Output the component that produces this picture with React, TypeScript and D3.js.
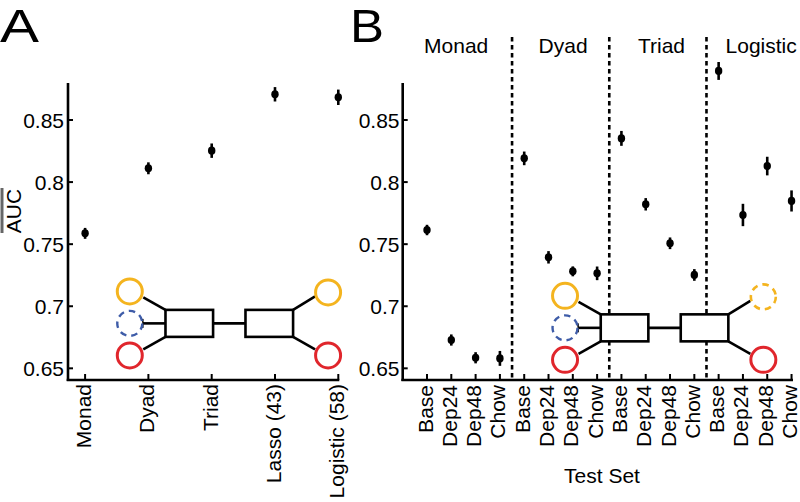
import React from "react";
import * as d3 from "d3";

// ---------- data ----------
const panelACategories = ["Monad", "Dyad", "Triad", "Lasso (43)", "Logistic (58)"];
const panelAMeans = [0.7587, 0.8111, 0.8253, 0.8707, 0.8683];
const panelAErrors = [0.0044, 0.0048, 0.0058, 0.0058, 0.0062];

const modelGroups = ["Monad", "Dyad", "Triad", "Logistic"];
const testSets = ["Base", "Dep24", "Dep48", "Chow"];
const panelBMeans = [
  0.7614, 0.6728, 0.6585, 0.658,
  0.8191, 0.7394, 0.7281, 0.7265,
  0.8352, 0.7821, 0.7507, 0.7252,
  0.8895, 0.7735, 0.8129, 0.7848,
];
const panelBErrors = [
  0.0042, 0.0045, 0.0045, 0.006,
  0.0055, 0.005, 0.004, 0.0055,
  0.006, 0.005, 0.0047, 0.0047,
  0.0072, 0.009, 0.0075, 0.0085,
];
const groupTitlePos = [2.2, 6.6, 10.65, 14.75];
const dividerPos = [4.5, 8.5, 12.5];

const yTicks = [0.65, 0.7, 0.75, 0.8, 0.85];
const yTickLabels = ["0.65", "0.7", "0.75", "0.8", "0.85"];

// ---------- styling ----------
const FONT = "'Liberation Sans', Arial, Helvetica, sans-serif";
const FS = 21;
const YELLOW = "#F4B41F";
const RED = "#E0262C";
const BLUE = "#3E5CA8";

const y = d3.scaleLinear().domain([0.6406, 0.8798]).range([380, 83]);
const xA = d3.scaleLinear().domain([0.73, 5]).range([68, 338.3]);
const xB = d3.scaleLinear().domain([0, 16.06]).range([402.7, 793]);

function Diagram({ x0, y0, rightDashed }: { x0: number; y0: number; rightDashed: boolean }) {
  const r = 12.5;
  const bx1 = 35.7, bw = 47.6, gap = 32.4;
  const bx2 = bx1 + bw + gap;
  const rx = bx2 + bw + 35;
  const bh = 13.5;
  return (
    <g transform={`translate(${x0},${y0})`} strokeWidth={2.6} fill="none">
      <line x1={13.5} y1={-26} x2={bx1} y2={-bh} stroke="#000" />
      <line x1={12.5} y1={0} x2={bx1} y2={0} stroke="#000" />
      <line x1={12.5} y1={-4.5} x2={12.5} y2={4.5} stroke="#000" />
      <line x1={13.5} y1={26} x2={bx1} y2={bh} stroke="#000" />
      <line x1={bx1 + bw} y1={0} x2={bx2} y2={0} stroke="#000" />
      <line x1={bx2 + bw} y1={-bh} x2={rx - 13} y2={-27} stroke="#000" />
      <line x1={bx2 + bw} y1={bh} x2={rx - 13} y2={26} stroke="#000" />
      <rect x={bx1} y={-bh} width={bw} height={bh * 2} fill="#fff" stroke="#000" />
      <rect x={bx2} y={-bh} width={bw} height={bh * 2} fill="#fff" stroke="#000" />
      <circle cx={0} cy={-32} r={r} stroke={YELLOW} strokeWidth={3} fill="#fff" />
      <circle cx={0} cy={0} r={r} stroke={BLUE} strokeWidth={2.4} strokeDasharray="6.5,5" fill="#fff" />
      <circle cx={0} cy={32} r={r} stroke={RED} strokeWidth={3} fill="#fff" />
      <circle cx={rx} cy={-31} r={r} stroke={YELLOW} strokeWidth={rightDashed ? 2.6 : 3}
        strokeDasharray={rightDashed ? "6.5,5" : undefined} fill="#fff" />
      <circle cx={rx} cy={32} r={r} stroke={RED} strokeWidth={3} fill="#fff" />
    </g>
  );
}

function Point({ cx, m, e }: { cx: number; m: number; e: number }) {
  return (
    <g>
      <line x1={cx} x2={cx} y1={y(m - e)} y2={y(m + e)} stroke="#000" strokeWidth={2.6} />
      <ellipse cx={cx} cy={y(m)} rx={3.7} ry={4.1} fill="#000" />
    </g>
  );
}

export default function App() {
  const bIdx = d3.range(1, 17);
  return (
    <svg width={800} height={502} style={{ position: "absolute", left: 0, top: 0, background: "#fff" }}
      fontFamily={FONT}>
      <rect width={800} height={502} fill="#fff" />
      {/* Panel letters */}
      <text x={0} y={41.5} fontSize={46} textLength={39} lengthAdjust="spacingAndGlyphs">A</text>
      <text x={350} y={41.5} fontSize={46} textLength={34} lengthAdjust="spacingAndGlyphs">B</text>

      {/* ---------- Panel A ---------- */}
      <g>
        <line x1={xA.range()[0]} x2={xA.range()[0]} y1={83} y2={381} stroke="#000" strokeWidth={2.6} />
        <line x1={xA.range()[0] - 1.3} x2={xA.range()[1] + 1} y1={380} y2={380} stroke="#000" strokeWidth={2.6} />
        {yTicks.map((t, i) => (
          <g key={i}>
            <line x1={68} x2={73} y1={y(t)} y2={y(t)} stroke="#000" strokeWidth={2} />
            <text x={64} y={y(t)} dy="0.36em" textAnchor="end" fontSize={FS}>{yTickLabels[i]}</text>
          </g>
        ))}
        {panelACategories.map((c, i) => (
          <g key={c}>
            <line x1={xA(i + 1)} x2={xA(i + 1)} y1={380} y2={374} stroke="#000" strokeWidth={2} />
            <text transform={`translate(${xA(i + 1) + 6},${384}) rotate(-90)`} textAnchor="end" fontSize={FS}>{c}</text>
          </g>
        ))}
        <Diagram x0={xA(1.706)} y0={y(0.6862)} rightDashed={false} />
        {panelAMeans.map((m, i) => (
          <Point key={i} cx={xA(i + 1)} m={m} e={panelAErrors[i]} />
        ))}
        <line x1={2} x2={2} y1={188} y2={233} stroke="#666" strokeWidth={3} />
        <text transform="translate(21,211) rotate(-90)" textAnchor="middle" fontSize={FS}>AUC</text>
      </g>

      {/* ---------- Panel B ---------- */}
      <g>
        {dividerPos.map((p, i) => (
          <line key={i} x1={xB(p)} x2={xB(p)} y1={37} y2={380} stroke="#000" strokeWidth={2.6} strokeDasharray="4.5,3.5" />
        ))}
        {modelGroups.map((g, i) => (
          <text key={g} x={xB(groupTitlePos[i])} y={52.5} textAnchor="middle" fontSize={FS}>{g}</text>
        ))}
        <line x1={xB.range()[0]} x2={xB.range()[0]} y1={83} y2={381} stroke="#000" strokeWidth={2.6} />
        <line x1={xB.range()[0] - 1.3} x2={xB.range()[1]} y1={380} y2={380} stroke="#000" strokeWidth={2.6} />
        {yTicks.map((t, i) => (
          <g key={i}>
            <line x1={402.7} x2={407.7} y1={y(t)} y2={y(t)} stroke="#000" strokeWidth={2} />
            <text x={399.5} y={y(t)} dy="0.36em" textAnchor="end" fontSize={FS}>{yTickLabels[i]}</text>
          </g>
        ))}
        {bIdx.map((i) => (
          <g key={i}>
            <line x1={xB(i)} x2={xB(i)} y1={380} y2={374} stroke="#000" strokeWidth={2} />
            <text transform={`translate(${xB(i) + 5.5},${385}) rotate(-90)`} textAnchor="end" fontSize={FS}>
              {testSets[(i - 1) % 4]}
            </text>
          </g>
        ))}
        <Diagram x0={xB(6.68)} y0={y(0.6826)} rightDashed={true} />
        {panelBMeans.map((m, i) => (
          <Point key={i} cx={xB(i + 1)} m={m} e={panelBErrors[i]} />
        ))}
        <text x={xB(8.2)} y={483} textAnchor="middle" fontSize={FS}>Test Set</text>
      </g>
    </svg>
  );
}
